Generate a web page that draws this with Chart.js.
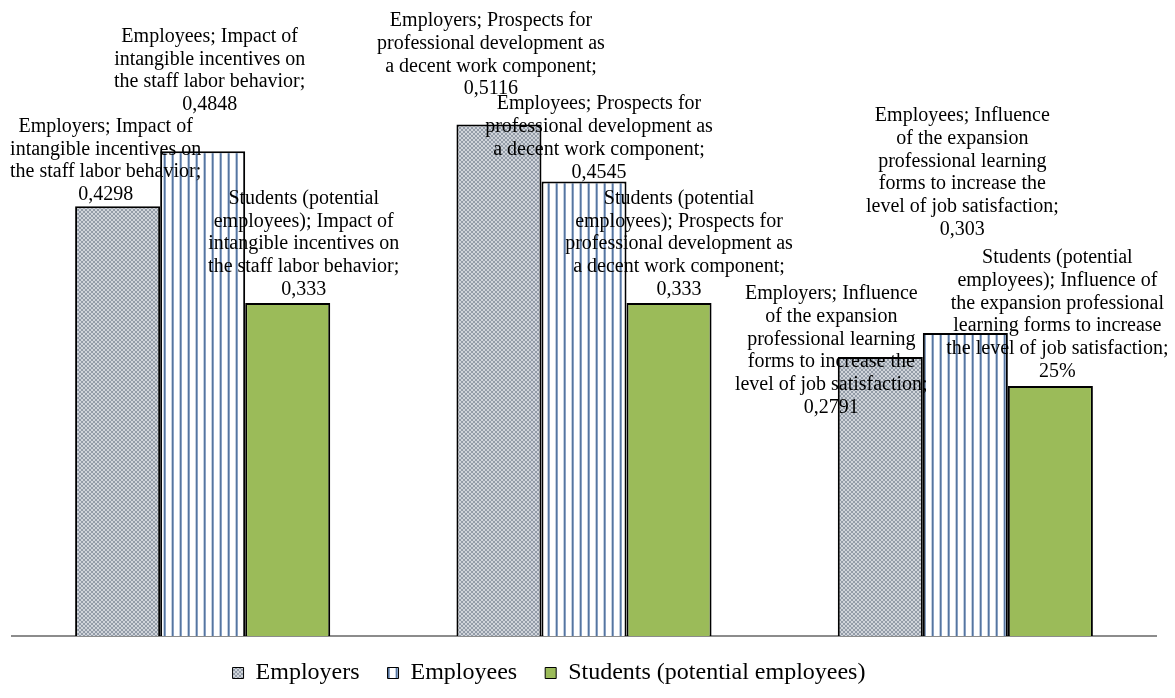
<!DOCTYPE html>
<html lang="en">
  <head>
    <meta charset="UTF-8" />
    <title>Decent work survey</title>
    <script src="https://cdn.jsdelivr.net/npm/chart.js"></script>
    <style>
      body { margin: 0; background: #fff; }
    </style>
  </head>
  <body>
    <div style="width: 1175px; height: 698px">
      <canvas id="grafico"></canvas>
    </div>
    <script>
      const categorias = [
        "Impact of intangible incentives on the staff labor behavior",
        "Prospects for professional development as a decent work component",
        "Influence of the expansion professional learning forms to increase the level of job satisfaction",
      ]
      const series = ["Employers", "Employees", "Students (potential employees)"]

      const employers = [0.4298, 0.5116, 0.2791]
      const employees = [0.4848, 0.4545, 0.303]
      const students = [0.333, 0.333, 0.25]

      // label text as the original shows it (wrapped)
      const rotulosEmployers = [
        ["Employers; Impact of", "intangible incentives on", "the staff labor behavior;", "0,4298"],
        ["Employers; Prospects for", "professional development as", "a decent work component;", "0,5116"],
        ["Employers; Influence", "of the expansion", "professional learning", "forms to increase the", "level of job satisfaction;", "0,2791"],
      ]
      const rotulosEmployees = [
        ["Employees; Impact of", "intangible incentives on", "the staff labor behavior;", "0,4848"],
        ["Employees; Prospects for", "professional development as", "a decent work component;", "0,4545"],
        ["Employees; Influence", "of the expansion", "professional learning", "forms to increase the", "level of job satisfaction;", "0,303"],
      ]
      const rotulosStudents = [
        ["Students (potential", "employees); Impact of", "intangible incentives on", "the staff labor behavior;", "0,333"],
        ["Students (potential", "employees); Prospects for", "professional development as", "a decent work component;", "0,333"],
        ["Students (potential", "employees); Influence of", "the expansion professional", "learning forms to increase", "the level of job satisfaction;", "25%"],
      ]

      // where each label sits compared with its bar top (dx, dy of last baseline)
      const deslocamentos = [
        [[-12, -6], [-8, -30], [-49, 56]],
        [[7, -41], [15, -4], [-3, -98]],
        [[16, -8], [10, -8], [7, -9]],
      ]

      const fonte = "'Liberation Serif', 'Times New Roman', serif"
      Chart.defaults.font.family = fonte
      Chart.defaults.color = "#000"

      function padraoEmployers() {
        const c = document.createElement("canvas")
        c.width = 4
        c.height = 4
        const g = c.getContext("2d")
        g.fillStyle = "#d0d4da"
        g.fillRect(0, 0, 4, 4)
        g.fillStyle = "#939ca8"
        for (let i = 0; i < 4; i++) {
          g.fillRect(i, i, 1, 1)
          g.fillRect(3 - i, i, 1, 1)
        }
        return g.createPattern(c, "repeat")
      }

      function padraoEmployees() {
        const c = document.createElement("canvas")
        c.width = 8
        c.height = 1
        const g = c.getContext("2d")
        g.fillStyle = "#ffffff"
        g.fillRect(0, 0, 8, 1)
        g.fillStyle = "#c3d0e2"
        g.fillRect(3, 0, 1, 1)
        g.fillStyle = "#56759f"
        g.fillRect(4, 0, 1, 1)
        g.fillStyle = "#8aa2c4"
        g.fillRect(5, 0, 1, 1)
        return g.createPattern(c, "repeat")
      }

      const rotulos = [rotulosEmployers, rotulosEmployees, rotulosStudents]

      const pluginRotulos = {
        id: "rotulos",
        afterDatasetsDraw(chart) {
          const ctx = chart.ctx
          ctx.save()
          ctx.font = "20px " + fonte
          ctx.fillStyle = "#000"
          ctx.textAlign = "center"
          ctx.textBaseline = "alphabetic"
          const alturaLinha = 22.8
          chart.data.datasets.forEach((ds, d) => {
            const meta = chart.getDatasetMeta(d)
            meta.data.forEach((barra, i) => {
              const linhas = rotulos[d][i]
              const [dx, dy] = deslocamentos[d][i]
              const base = barra.y + dy
              linhas.forEach((t, k) => {
                ctx.fillText(t, barra.x + dx, base - (linhas.length - 1 - k) * alturaLinha)
              })
            })
          })
          ctx.restore()
        },
      }

      // legend: keep its box short so the plot reaches down to the axis, then move it
      const pluginLegenda = {
        id: "moverLegenda",
        beforeLayout(chart) {
          const lg = chart.legend
          if (lg && !lg._ajustada) {
            const fitOriginal = lg.fit.bind(lg)
            lg.fit = function () {
              fitOriginal()
              this.height = 62
            }
            lg._ajustada = true
          }
        },
        afterLayout(chart) {
          const lg = chart.legend
          lg.left -= 35
          lg.right -= 35
          lg.top = 673 - 28 - 12
          lg.bottom = lg.top + 62
        },
      }

      const ctx = document.getElementById("grafico")
      let grafico = new Chart(ctx, {
        type: "bar",
        data: {
          labels: categorias,
          datasets: [
            { label: series[0], data: employers, backgroundColor: padraoEmployers() },
            { label: series[1], data: employees, backgroundColor: padraoEmployees() },
            { label: series[2], data: students, backgroundColor: "#9bbb59" },
          ],
        },
        options: {
          responsive: true,
          maintainAspectRatio: false,
          animation: false,
          datasets: {
            bar: {
              borderColor: "#000",
              borderWidth: 2,
              barPercentage: 1,
              categoryPercentage: 0.669,
            },
          },
          layout: { padding: { left: 12, right: 19, top: 36, bottom: 0 } },
          scales: {
            y: { display: false, min: 0, max: 0.6 },
            x: {
              grid: { display: false, drawTicks: false },
              ticks: { display: false },
              border: { display: true, color: "#8c8c8c", width: 2 },
            },
          },
          plugins: {
            tooltip: { enabled: false },
            legend: {
              position: "bottom",
              labels: {
                font: { size: 24 },
                boxWidth: 11,
                boxHeight: 11,
                padding: 28,
                generateLabels(chart) {
                  const itens = Chart.defaults.plugins.legend.labels.generateLabels(chart)
                  itens.forEach((it) => (it.lineWidth = 1))
                  return itens
                },
              },
            },
          },
        },
        plugins: [pluginRotulos, pluginLegenda],
      })
    </script>
  </body>
</html>
